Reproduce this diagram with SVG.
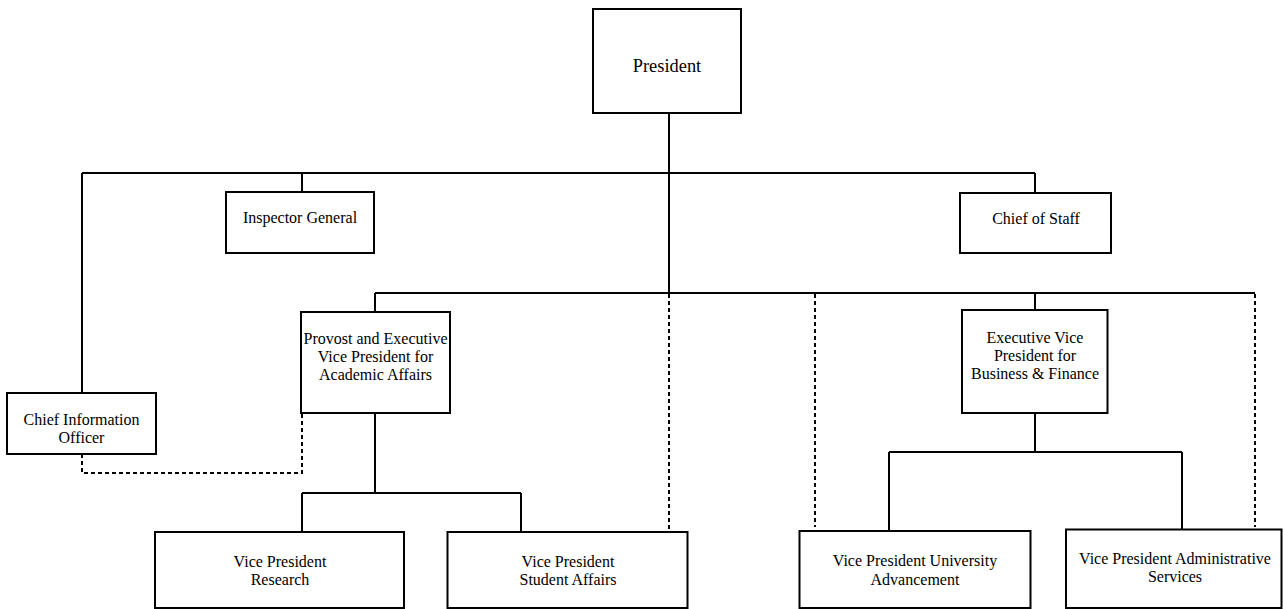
<svg xmlns="http://www.w3.org/2000/svg" width="1283" height="609" viewBox="0 0 1283 609">
<style>
.box{fill:#fff;stroke:#000;stroke-width:2}
.t{font-family:"Liberation Serif","Times New Roman",serif;font-size:16px;fill:#000;text-anchor:middle}
.big{font-size:18.4px}
.ln{fill:none;stroke:#000;stroke-width:2}
.dash{fill:none;stroke:#000;stroke-width:2;stroke-dasharray:4 3}
</style>
<rect width="1283" height="609" fill="#fff"/>
<g id="connectors">
<path class="ln" d="M669 113V293M82 173H1035M82 173V393M302 173V192M1035 173V193M375 293H1255M375 293V312M1035 293V310"/>
<path class="ln" d="M375 413V493M302 493H521M302 493V532M521 493V532"/>
<path class="ln" d="M1035 413V452M889 452H1182M889 452V531M1182 452V529"/>
<path class="dash" d="M669 294V530M815 294V527M1255 294V527"/>
<path class="dash" d="M82 454V473H302V413"/>
</g>
<g id="president"><rect class="box" x="593" y="9" width="148" height="104"/><text class="t big" x="667" y="72">President</text></g>
<g id="inspector-general"><rect class="box" x="226" y="192" width="148" height="61"/><text class="t" x="300" y="223">Inspector General</text></g>
<g id="chief-of-staff"><rect class="box" x="960" y="193" width="151" height="60"/><text class="t" x="1036" y="224">Chief of Staff</text></g>
<g id="cio"><rect class="box" x="7" y="393" width="149" height="61"/><text class="t" x="81.5" y="424.5">Chief Information</text><text class="t" x="81.5" y="442.8">Officer</text></g>
<g id="provost"><rect class="box" x="301" y="312" width="149" height="101"/><text class="t" x="375.5" y="343.5">Provost and Executive</text><text class="t" x="375.5" y="362">Vice President for</text><text class="t" x="375.5" y="380">Academic Affairs</text></g>
<g id="evp-business"><rect class="box" x="962" y="310" width="145.5" height="103"/><text class="t" x="1035" y="342.5">Executive Vice</text><text class="t" x="1035" y="360.5">President for</text><text class="t" x="1035" y="378.5">Business &amp; Finance</text></g>
<g id="vp-research"><rect class="box" x="155" y="532" width="249" height="76"/><text class="t" x="280" y="567">Vice President</text><text class="t" x="280" y="585.3">Research</text></g>
<g id="vp-student-affairs"><rect class="box" x="447.5" y="532" width="240" height="76"/><text class="t" x="568" y="567">Vice President</text><text class="t" x="568" y="585.3">Student Affairs</text></g>
<g id="vp-university-advancement"><rect class="box" x="799.5" y="531" width="231" height="77"/><text class="t" x="915" y="566">Vice President University</text><text class="t" x="915" y="585">Advancement</text></g>
<g id="vp-administrative-services"><rect class="box" x="1066" y="529.5" width="215.5" height="78.5"/><text class="t" x="1175" y="564">Vice President Administrative</text><text class="t" x="1175" y="582">Services</text></g>
</svg>
